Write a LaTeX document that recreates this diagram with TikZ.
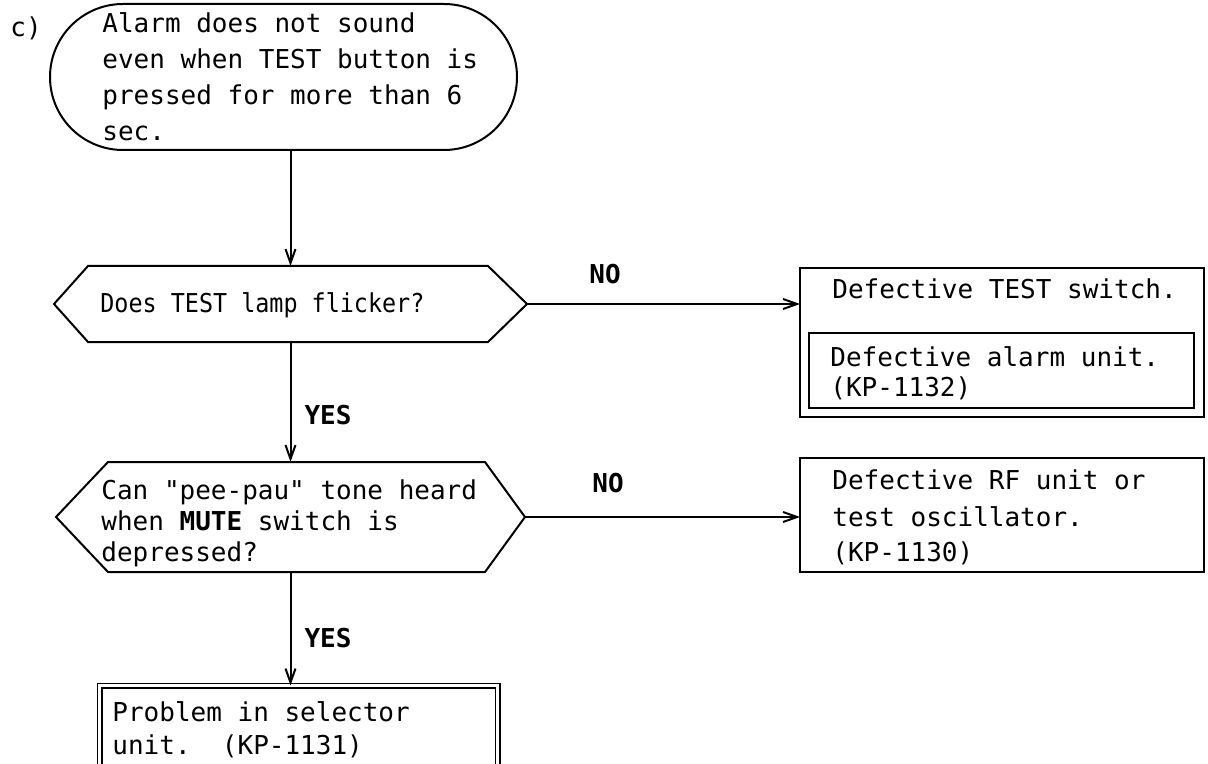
\documentclass[tikz,border=0pt]{standalone}
\usepackage{fontspec}
\setmonofont{DejaVu Sans Mono}
\usetikzlibrary{shapes.misc,arrows.meta,calc}
\begin{document}
\begin{tikzpicture}[x=0.5pt,y=-0.5pt,
  line/.style={line width=1pt},
  arr/.style={line width=1pt,-{Straight Barb[length=7pt,width=5pt]}},
  txt/.style={font=\ttfamily\fontsize{13}{16}\selectfont, inner sep=0pt, anchor=base west},
  lbl/.style={font=\ttfamily\bfseries\fontsize{13}{16}\selectfont, inner sep=0pt, anchor=base},
  ghost/.style={inner sep=0pt, outer sep=0pt},
  boxed/.style={draw, line width=1pt, inner sep=0pt, outer sep=0pt, anchor=north west}]
\useasboundingbox (0,0) rectangle (1208,764);
\begin{scope}
\clip (0,0) rectangle (1208,764);
\fill[white] (0,0) rectangle (1208,764);

% start terminal
\node[draw, line width=1pt, rounded rectangle, minimum width=233.5pt, minimum height=73pt,
      inner sep=0pt, outer sep=0pt] (start) at (283.5,77) {};
\node[txt] (lc) at (10,37) {c)};
\node[txt] (s1) at (102,33) {Alarm does not sound};
\node[txt] (s2) at (102,69) {even when TEST button is};
\node[txt] (s3) at (102,105) {pressed for more than 6};
\node[txt] (s4) at (102,141) {sec.};

% decision 1
\node[ghost, minimum width=236.5pt, minimum height=38pt] (d1) at (290.5,304) {};
\draw[line] (d1.west) -- ($(d1.north west)+(34,0)$) -- ($(d1.north east)+(-39,0)$)
  -- (d1.east) -- ($(d1.south east)+(-39,0)$) -- ($(d1.south west)+(34,0)$) -- cycle;
\node[txt] (d1t) at (100,313) {\scalebox{0.9}[1]{Does TEST lamp flicker?}};

% decision 2
\node[ghost, minimum width=234.5pt, minimum height=55pt] (d2) at (290.5,517) {};
\draw[line] (d2.west) -- ($(d2.north west)+(52,0)$) -- ($(d2.north east)+(-40,0)$)
  -- (d2.east) -- ($(d2.south east)+(-40,0)$) -- ($(d2.south west)+(52,0)$) -- cycle;
\node[txt] (d2a) at (101,499) {Can "pee-pau" tone heard};
\node[txt] (d2b) at (101,530) {when \textbf{MUTE} switch is};
\node[txt] (d2c) at (101,561) {depressed?};

% result box 1
\node[boxed, line width=1.2pt, minimum width=202pt, minimum height=74.5pt] (b1) at (800,268) {};
\node[boxed, line width=0.8pt, minimum width=192.5pt, minimum height=37.5pt] (b1i) at (809,333) {};
\node[txt] (b1a) at (832,299) {Defective TEST switch.};
\node[txt] (b1b) at (830,366) {Defective alarm unit.};
\node[txt] (b1c) at (830,396) {(KP-1132)};

% result box 2
\node[boxed, minimum width=202pt, minimum height=57pt] (b2) at (800,458) {};
\node[txt] (b2a) at (832,489) {Defective RF unit or};
\node[txt] (b2b) at (832,526) {test oscillator.};
\node[txt] (b2c) at (832,561) {(KP-1130)};

% result box 3 (double border)
\node[draw, double, double distance=1.6pt, line width=0.7pt, inner sep=0pt, outer sep=0pt,
      anchor=north west, minimum width=199pt, minimum height=41pt] (b3) at (99.5,685.5) {};
\node[txt] (b3a) at (112,721) {Problem in selector};
\node[txt] (b3b) at (112,754) {unit.~~(KP-1131)};

% connectors
\draw[arr] (d1.north |- start.south) -- (d1.north);
\draw[arr] (d1.south) -- (d2.north);
\draw[arr] (d2.south) -- (d2.south |- b3.north);
\draw[arr] (d1.east) -- (d1.east -| b1.west);
\draw[arr] (d2.east) -- (d2.east -| b2.west);

% labels
\node[lbl] (no1) at (605,284) {NO};
\node[lbl] (no2) at (608,492) {NO};
\node[lbl] (yes1) at (328,424) {YES};
\node[lbl] (yes2) at (328,647) {YES};
\end{scope}
\end{tikzpicture}
\end{document}
